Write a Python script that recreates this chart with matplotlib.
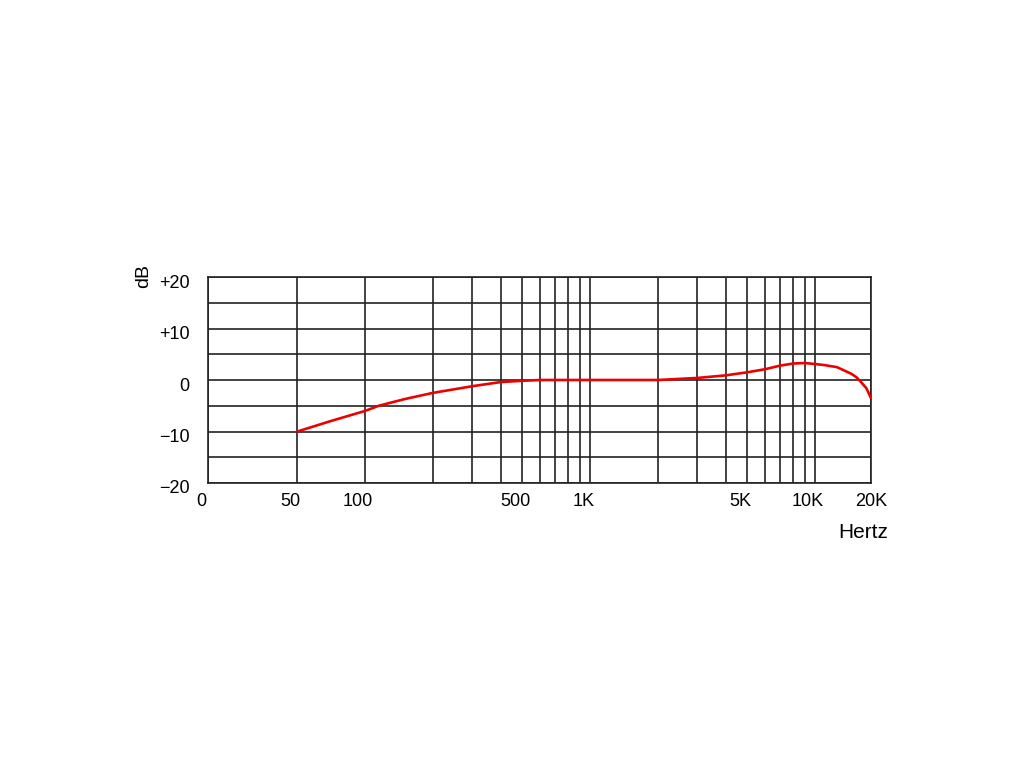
import matplotlib.pyplot as plt
import matplotlib.transforms as mtransforms

plt.rcParams['font.family'] = ['Liberation Sans', 'DejaVu Sans']

# Frequency response
freq = [50, 70, 100, 115, 150, 200, 300, 400, 500, 600, 1000, 2000, 3000,
        4000, 5000, 6000, 7000, 8000, 9000, 10000, 11000, 12500, 14500,
        15300, 16000, 16900, 17700]
db = [-10, -8, -6, -5, -3.7, -2.5, -1.2, -0.4, -0.15, 0, 0, 0, 0.4,
      0.9, 1.5, 2.1, 2.8, 3.2, 3.3, 3.1, 2.9, 2.5, 1.2,
      0.5, -0.4, -1.6, -3.5]

# Axis ticks
x_major = [20, 50, 100, 500, 1000, 5000, 10000, 17700]
x_labels = ["0", "50", "100", "500", "1K", "5K", "10K", "20K"]
x_minor = [200, 300, 400, 600, 700, 800, 900, 2000, 3000, 4000,
           6000, 7000, 8000, 9000]
y_major = [-20, -10, 0, 10, 20]
y_labels = ["\u221220", "\u221210", "0", "+10", "+20"]
y_minor = [-15, -5, 5, 15]

fig = plt.figure(figsize=(10.24, 7.68), dpi=100)
ax = fig.add_axes([0.203, 0.3711, 0.6475, 0.2682])

ax.plot(freq, db, color='#ee0000', lw=1.9, zorder=3,
        solid_joinstyle='round', solid_capstyle='round')

ax.set_xscale('log')
ax.set_xlim(20, 17700)
ax.set_ylim(-20, 20)
ax.set_xticks(x_major)
ax.set_xticklabels(x_labels)
ax.set_xticks(x_minor, minor=True)
ax.set_xticklabels([], minor=True)
ax.set_yticks(y_major)
ax.set_yticklabels(y_labels)
ax.set_yticks(y_minor, minor=True)

ax.grid(which='both', color='#222222', lw=1.2)
ax.tick_params(which='both', length=0, labelsize=13)
ax.tick_params(axis='x', pad=7)
ax.tick_params(axis='y', pad=13)
for s in ax.spines.values():
    s.set_color('#222222')
    s.set_linewidth(1.2)

# labels in the original sit slightly left / below their lines
dx = mtransforms.ScaledTranslation(-0.07, 0, fig.dpi_scale_trans)
for lab in ax.get_xticklabels()[:-1]:
    lab.set_transform(lab.get_transform() + dx)
dy = mtransforms.ScaledTranslation(0, -0.04, fig.dpi_scale_trans)
for lab in ax.get_yticklabels():
    lab.set_transform(lab.get_transform() + dy)

fig.text(0.14, 0.641, "dB", rotation=90, fontsize=14, ha='center', va='center')
fig.text(0.843, 0.307, "Hertz", fontsize=15, ha='center', va='center')

fig.savefig("out.png", dpi=100, facecolor='white')
